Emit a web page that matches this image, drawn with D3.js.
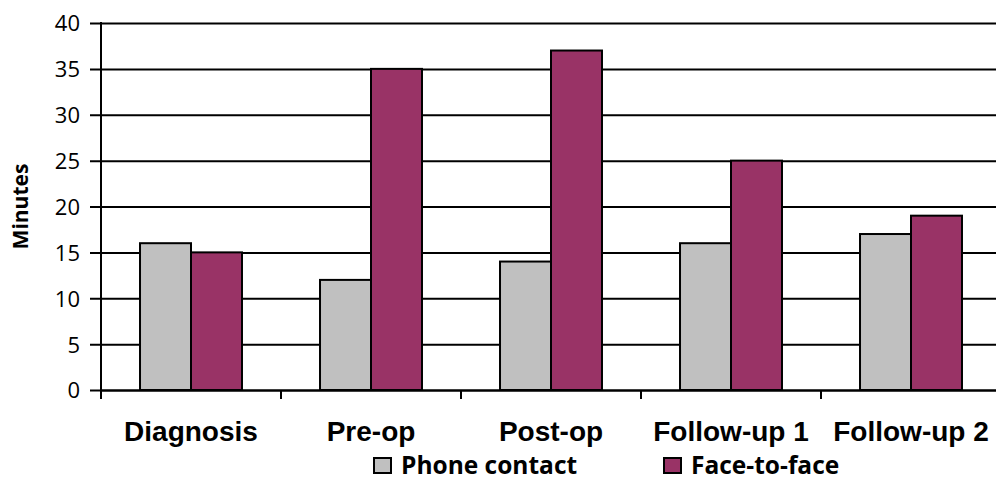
<!DOCTYPE html>
<html>
<head>
<meta charset="utf-8">
<script src="https://cdn.jsdelivr.net/npm/d3@7"></script>
<style>
  html, body { margin: 0; padding: 0; background: #fff; }
  svg { display: block; }
</style>
</head>
<body>
<svg id="chart" width="996" height="480"></svg>
<script>
// Time spent per contact, by stage of care
const categories = ["Diagnosis", "Pre-op", "Post-op", "Follow-up 1", "Follow-up 2"];
const seriesNames = ["Phone contact", "Face-to-face"];
const phoneValues = [16, 12, 14, 16, 17];
const faceValues = [15, 35, 37, 25, 19];
const yTicks = [0, 5, 10, 15, 20, 25, 30, 35, 40];
const colors = ["#C0C0C0", "#993366"];

const svg = d3.select("#chart");
const plotLeft = 101, plotTop = 23, plotBottom = 390;
const step = 180;
const humanist = "'Open Sans', Lato, sans-serif";

const y = d3.scaleLinear().domain([0, 40]).range([plotBottom, plotTop]);
const x = d3.scaleBand().domain(categories)
  .range([plotLeft, plotLeft + step * categories.length]).padding(0);
const xs = d3.scaleBand().domain(seriesNames)
  .range([0, x.bandwidth()]).paddingInner(0).paddingOuter(0.765);

// Gridlines with their tick marks
const yAxis = d3.axisLeft(y).tickValues(yTicks).tickSize(-(996 - plotLeft)).tickSizeOuter(0).tickPadding(0);
const gy = svg.append("g").attr("transform", `translate(${plotLeft},0)`).call(yAxis);
gy.select(".domain").remove();
gy.selectAll(".tick line").attr("stroke", "#000").attr("stroke-width", 2).attr("x1", -11);
gy.selectAll(".tick text")
  .attr("x", -21)
  .attr("dy", "0.36em")
  .attr("fill", "#000")
  .style("font-family", humanist)
  .style("font-size", "22px");

// Bars
const data = categories.map((c, i) => ({ cat: c, vals: [phoneValues[i], faceValues[i]] }));
const groups = svg.append("g").selectAll("g").data(data).join("g")
  .attr("transform", d => `translate(${x(d.cat)},0)`);
groups.selectAll("rect")
  .data(d => d.vals.map((v, j) => ({ name: seriesNames[j], v, j })))
  .join("rect")
  .attr("x", d => xs(d.name))
  .attr("width", xs.bandwidth())
  .attr("y", d => y(d.v))
  .attr("height", d => y(0) - y(d.v))
  .attr("fill", d => colors[d.j])
  .attr("stroke", "#000")
  .attr("stroke-width", 2);

// Axis lines
svg.append("line").attr("x1", plotLeft).attr("x2", plotLeft).attr("y1", plotTop - 1).attr("y2", plotBottom + 9)
  .attr("stroke", "#000").attr("stroke-width", 2);
const xAxis = d3.axisBottom(x).tickSize(0).tickPadding(0);
const gx = svg.append("g").attr("transform", `translate(0,${plotBottom})`).call(xAxis);
gx.select(".domain").attr("stroke", "#000").attr("stroke-width", 2);
gx.selectAll(".tick text")
  .attr("y", 51)
  .attr("dy", 0)
  .attr("fill", "#000")
  .style("font-family", "'Liberation Sans', Arial, sans-serif")
  .style("font-weight", "bold")
  .style("font-size", "28px");
// Category separators
svg.append("g").selectAll("line")
  .data(categories.map((c, i) => i))
  .join("line")
  .attr("x1", i => x(categories[i]))
  .attr("x2", i => x(categories[i]))
  .attr("y1", plotBottom)
  .attr("y2", plotBottom + 9)
  .attr("stroke", "#000").attr("stroke-width", 2);

// Axis title
svg.append("text")
  .attr("transform", `translate(28,${(plotTop + plotBottom) / 2}) rotate(-90)`)
  .attr("text-anchor", "middle")
  .attr("fill", "#000")
  .style("font-family", humanist)
  .style("font-weight", "bold")
  .style("font-size", "21px")
  .text("Minutes");

// Legend
const legendX = [374, 664];
const legend = svg.append("g").selectAll("g").data(seriesNames).join("g")
  .attr("transform", (d, i) => `translate(${legendX[i]},458)`);
legend.append("rect")
  .attr("width", 17).attr("height", 15)
  .attr("fill", (d, i) => colors[i])
  .attr("stroke", "#000").attr("stroke-width", 2);
legend.append("text")
  .attr("x", 27).attr("y", 16)
  .attr("fill", "#000")
  .style("font-family", humanist)
  .style("font-weight", "bold")
  .style("font-size", "24.5px")
  .text(d => d);
</script>
</body>
</html>
